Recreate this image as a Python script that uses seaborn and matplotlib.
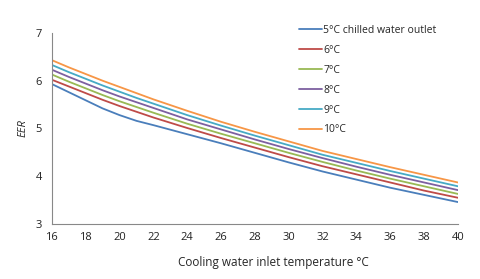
import pandas as pd
import matplotlib.pyplot as plt
import seaborn as sns

inlet_temp = [16, 17, 18, 19, 20, 21, 22, 24, 26, 28, 30, 32, 34, 36, 38, 40]

eer_5 = [5.93, 5.76, 5.59, 5.42, 5.28, 5.16, 5.07, 4.88, 4.69, 4.49, 4.29, 4.10, 3.93, 3.76, 3.61, 3.46]
eer_6 = [6.02, 5.88, 5.74, 5.60, 5.47, 5.35, 5.23, 5.01, 4.80, 4.60, 4.40, 4.21, 4.04, 3.87, 3.70, 3.55]
eer_7 = [6.13, 5.98, 5.84, 5.70, 5.57, 5.45, 5.33, 5.10, 4.89, 4.69, 4.49, 4.30, 4.12, 3.95, 3.79, 3.63]
eer_8 = [6.23, 6.08, 5.94, 5.80, 5.67, 5.55, 5.43, 5.19, 4.98, 4.77, 4.57, 4.38, 4.20, 4.03, 3.87, 3.71]
eer_9 = [6.33, 6.18, 6.04, 5.90, 5.77, 5.64, 5.52, 5.28, 5.06, 4.85, 4.65, 4.45, 4.28, 4.11, 3.95, 3.79]
eer_10 = [6.43, 6.28, 6.14, 6.00, 5.87, 5.74, 5.61, 5.37, 5.14, 4.93, 4.73, 4.53, 4.36, 4.19, 4.03, 3.87]

series_names = ["5°C chilled water outlet", "6°C", "7°C", "8°C", "9°C", "10°C"]
series_values = [eer_5, eer_6, eer_7, eer_8, eer_9, eer_10]
colors = ["#4A7EBB", "#BE4B48", "#98B954", "#7D60A0", "#46AAC5", "#F79646"]

rows = []
for name, vals in zip(series_names, series_values):
    for t, v in zip(inlet_temp, vals):
        rows.append({"temp": t, "eer": v, "series": name})
df = pd.DataFrame(rows)

sns.set_style("white")
plt.rcParams["font.family"] = ["Open Sans", "DejaVu Sans"]

fig = plt.figure(figsize=(4.8, 2.79), dpi=100)
ax = fig.add_axes([0.108, 0.197, 0.846, 0.685])

sns.lineplot(data=df, x="temp", y="eer", hue="series", palette=colors,
             hue_order=series_names, linewidth=1.3, ax=ax, legend=False)

ax.set_xlim(16, 40)
ax.set_ylim(3, 7)
ax.set_xticks(range(16, 41, 2))
ax.set_yticks([3, 4, 5, 6, 7])
ax.tick_params(axis="both", labelsize=8, colors="#222222")
ax.tick_params(axis="x", direction="in", length=3, color="#888888", pad=6)
ax.tick_params(axis="y", direction="out", length=3, color="#888888", pad=4)
for s in ["top", "right"]:
    ax.spines[s].set_visible(False)
for s in ["left", "bottom"]:
    ax.spines[s].set_color("#888888")
    ax.spines[s].set_linewidth(0.8)

ax.set_xlabel("Cooling water inlet temperature °C", fontsize=8.5)
ax.xaxis.set_label_coords(0.545, -0.165)
ax.set_ylabel("EER", fontsize=8, style="italic", labelpad=5)

handles = [plt.Line2D([], [], color=c, lw=1.3) for c in colors]
fig.legend(handles, series_names, loc="upper left", bbox_to_anchor=(0.615, 0.925),
           frameon=False, fontsize=7.5, handlelength=2.2, handletextpad=0.1,
           labelspacing=0.85, borderaxespad=0)

fig.savefig("out.png", dpi=100)
